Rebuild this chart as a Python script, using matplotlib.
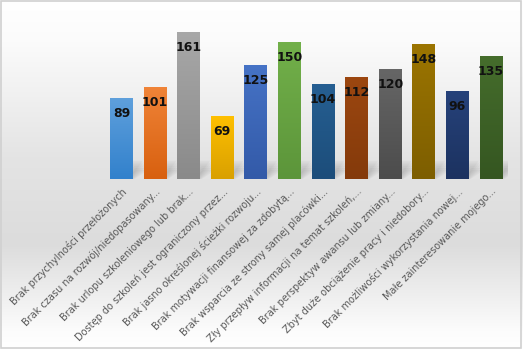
import matplotlib.pyplot as plt
import matplotlib.colors as mcolors
import numpy as np

labels = [
    "Brak przychylności przełożonych",
    "Brak czasu na rozwój/niedopasowany...",
    "Brak urlopu szkoleniowego lub brak...",
    "Dostęp do szkoleń jest ograniczony przez...",
    "Brak jasno określonej ścieżki rozwoju...",
    "Brak motywacji finansowej za zdobytą...",
    "Brak wsparcia ze strony samej placówki...",
    "Zły przepływ informacji na temat szkoleń,...",
    "Brak perspektyw awansu lub zmiany...",
    "Zbyt duże obciążenie pracy i niedobory...",
    "Brak możliwości wykorzystania nowej...",
    "Małe zainteresowanie mojego...",
]
values = [89, 101, 161, 69, 125, 150, 104, 112, 120, 148, 96, 135]
top_colors = ["#5fa0dc", "#f08438", "#a8a8a8", "#ffc000", "#4673c6", "#72b04a",
              "#265f92", "#9c4710", "#666666", "#9c7500", "#26427a", "#456d2c"]
bot_colors = ["#3281cc", "#d8600f", "#8a8a8a", "#d9a000", "#335aa8", "#5c953a",
              "#1c4d7a", "#843a0b", "#4c4c4c", "#7d5e00", "#1c3260", "#355621"]

fig = plt.figure(figsize=(5.23, 3.49), dpi=100)

# background gradient of the chart area
bg = fig.add_axes([0, 0, 1, 1], zorder=-10)
bg.axis('off')
grad_pos = [0.0, 0.12, 0.45, 0.7, 0.95, 1.0]
grad_col = ["#ffffff", "#fbfbfb", "#e4e4e4", "#dcdcdc", "#fcfcfc", "#ffffff"]
cmap_bg = mcolors.LinearSegmentedColormap.from_list("bg", list(zip(grad_pos, grad_col)))
bg.imshow(np.linspace(0, 1, 256).reshape(-1, 1), aspect='auto', cmap=cmap_bg,
          extent=[0, 1, 0, 1], origin='upper')
bg.set_xlim(0, 1)
bg.set_ylim(0, 1)
bg.add_patch(plt.Rectangle((0.002, 0.003), 0.995, 0.994, fill=False,
                           edgecolor="#d0d0d0", linewidth=1.2))

ax = fig.add_axes([0.200, 0.487, 0.771, 0.471])
ax.patch.set_alpha(0)
x = np.arange(len(values))
bars = ax.bar(x, values, width=0.68, color='none', edgecolor='none')

for b, c1, c2, v in zip(bars, top_colors, bot_colors, values):
    cm = mcolors.LinearSegmentedColormap.from_list("g", [c1, c2])
    x0, w, h = b.get_x(), b.get_width(), b.get_height()
    # blurred diagonal shadow behind each bar
    for k in range(6):
        d = 0.03 * k
        ax.add_patch(plt.Polygon([(x0 + w - 0.1 + d, 0), (x0 + w + 0.3 + d, 20 - 2 * k),
                                  (x0 + w - 0.05 + d, 20 - 2 * k), (x0 + w - 0.45 + d, 0)],
                                 closed=True, facecolor="#7a7a7a", alpha=0.07,
                                 edgecolor='none', zorder=1))
    im = ax.imshow(np.linspace(0, 1, 100).reshape(-1, 1), aspect='auto', cmap=cm,
                   extent=[x0, x0 + w, 0, h], origin='upper', zorder=2)
    im.set_clip_path(b)
    ax.annotate(str(v), (x0 + w / 2, h), xytext=(0, -11),
                textcoords='offset points', ha='center', va='center',
                fontsize=9, fontweight='bold', color='#111111', zorder=3)

ax.set_xlim(-0.5, len(values) - 0.5)
ax.set_ylim(0, 180)
for s in ax.spines.values():
    s.set_visible(False)
ax.set_yticks([])
ax.set_xticks(x)
ax.set_xticklabels(labels, rotation=45, ha='right', rotation_mode='anchor',
                   fontsize=7.0, color='#595959')
ax.tick_params(axis='x', length=0, pad=5)

fig.savefig("out.png", dpi=100)
